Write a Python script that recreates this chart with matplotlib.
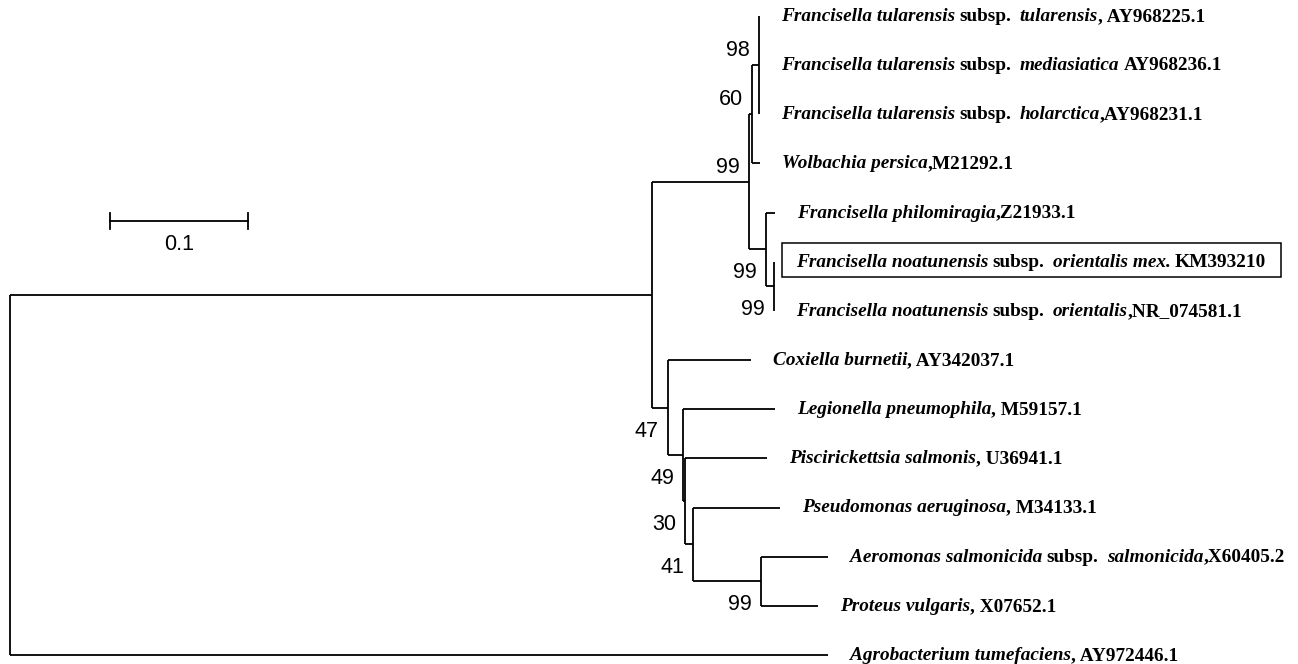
import matplotlib
matplotlib.use('Agg')
import matplotlib.pyplot as plt
from matplotlib.transforms import offset_copy
from matplotlib.patches import Rectangle

### tip labels, top to bottom (*...* = italic part)
tip_labels = [
    "*Francisella tularensis* subsp.  *tularensis*, AY968225.1",
    "*Francisella tularensis* subsp.  *mediasiatica* AY968236.1",
    "*Francisella tularensis* subsp.  *holarctica*,AY968231.1",
    "*Wolbachia persica*,M21292.1",
    "*Francisella philomiragia*,Z21933.1",
    "*Francisella noatunensis* subsp.  *orientalis mex.* KM393210",
    "*Francisella noatunensis* subsp.  *orientalis*,NR_074581.1",
    "*Coxiella burnetii*, AY342037.1",
    "*Legionella pneumophila*, M59157.1",
    "*Piscirickettsia salmonis*, U36941.1",
    "*Pseudomonas aeruginosa*, M34133.1",
    "*Aeromonas salmonicida* subsp.  *salmonicida*,X60405.2",
    "*Proteus vulgaris*, X07652.1",
    "*Agrobacterium tumefaciens*, AY972446.1",
]
n_tips = len(tip_labels)

### tree: nodes 0..13 are tips, 14.. internal (14 = root)
parent = [18, 18, 18, 17, 19, 20, 20, 21, 22, 23, 24, 25, 25, 14,
          -1, 14, 15, 16, 17, 16, 19, 15, 21, 22, 23, 24]
branch_len = [0.0, 0.0, 0.0, 0.0058, 0.0065, 0.0, 0.0, 0.0601, 0.0667, 0.0594,
              0.0630, 0.0486, 0.0413, 0.5928,
              0.0, 0.4652, 0.0703, 0.0022, 0.0051, 0.0123, 0.0058, 0.0116,
              0.0109, 0.0014, 0.0058, 0.0493]
bootstrap = {16: 99, 17: 60, 18: 98, 19: 99, 20: 99, 21: 47, 22: 49, 23: 30, 24: 41, 25: 99}
boot_above = [16, 17, 18]
highlight_tip = 5
scale_len = 0.1

n_nodes = len(parent)
children = {i: [] for i in range(n_nodes)}
for i, p in enumerate(parent):
    if p >= 0:
        children[p].append(i)

# x = distance from root
node_x = [0.0] * n_nodes
def set_x(i):
    for c in children[i]:
        node_x[c] = node_x[i] + branch_len[c]
        set_x(c)
set_x(14)

# y = row index for tips, midpoint of first/last child for internal nodes
node_y = [0.0] * n_nodes
def set_y(i):
    if i < n_tips:
        node_y[i] = i
        return i
    ys = [set_y(c) for c in children[i]]
    node_y[i] = (min(ys) + max(ys)) / 2
    return node_y[i]
set_y(14)

### figure
fig = plt.figure(figsize=(12.98, 6.64), dpi=100)
ax = fig.add_axes([0, 0, 1, 1])
ax.set_xlim(-10 / 1380, 1288 / 1380)
ax.set_ylim((664 - 16) / 49.15, -16 / 49.15)
ax.axis('off')
renderer = fig.canvas.get_renderer()

lw = 1.3
for i in range(n_nodes):
    if children[i]:
        ys = [node_y[c] for c in children[i]]
        ax.plot([node_x[i], node_x[i]], [min(ys), max(ys)], color='black', lw=lw,
                solid_capstyle='butt')
    if parent[i] >= 0 and branch_len[i] > 0:
        ax.plot([node_x[parent[i]], node_x[i]], [node_y[i], node_y[i]], color='black',
                lw=lw, solid_capstyle='butt')

### tip labels (mixed bold / bold italic)
fs = 13.9
space_px = fs * 0.22 * 100 / 72
boxes = {}
for i, label in enumerate(tip_labels):
    dx = 22
    first = None
    last = None
    for k, part in enumerate(label.split('*')):
        if not part:
            continue
        lead = len(part) - len(part.lstrip(' '))
        trail = len(part) - len(part.rstrip(' '))
        dx += lead * space_px
        tr = offset_copy(ax.transData, fig=fig, x=dx, y=-5, units='dots')
        t = ax.text(node_x[i], i, part.strip(), transform=tr, fontsize=fs,
                    family='Liberation Serif', weight='bold',
                    style='italic' if k % 2 else 'normal',
                    ha='left', va='baseline')
        bb = t.get_window_extent(renderer)
        if first is None:
            first = bb
        last = bb
        dx += bb.width + trail * space_px
    boxes[i] = (first.x0, last.x1)

# box round the new isolate
x0, x1 = boxes[highlight_tip]
ty = ax.transData.transform((0, highlight_tip))[1]
W, H = fig.bbox.width, fig.bbox.height
fig.patches.append(Rectangle(((x0 - 14) / W, (ty - 15) / H), (x1 - x0 + 29) / W, 34 / H,
                             transform=fig.transFigure, fill=False, lw=1.1,
                             edgecolor='black'))

### bootstrap values
for node, val in bootstrap.items():
    dy = 9 if node in boot_above else -29
    tr = offset_copy(ax.transData, fig=fig, x=-9, y=dy, units='dots')
    ax.text(node_x[node], node_y[node], str(val), transform=tr, fontsize=15.5,
            family='Liberation Sans', ha='right', va='baseline')

### scale bar
sx = 0.0725
sy = 4.17
ax.plot([sx, sx + scale_len], [sy, sy], color='black', lw=lw)
for xx in [sx, sx + scale_len]:
    ax.plot([xx, xx], [sy - 0.165, sy + 0.165], color='black', lw=lw)
ax.text(sx + scale_len / 2, sy + 0.6, '0.1', fontsize=15.5, family='Liberation Sans',
        ha='center', va='baseline')

fig.savefig('out.png', dpi=100)
